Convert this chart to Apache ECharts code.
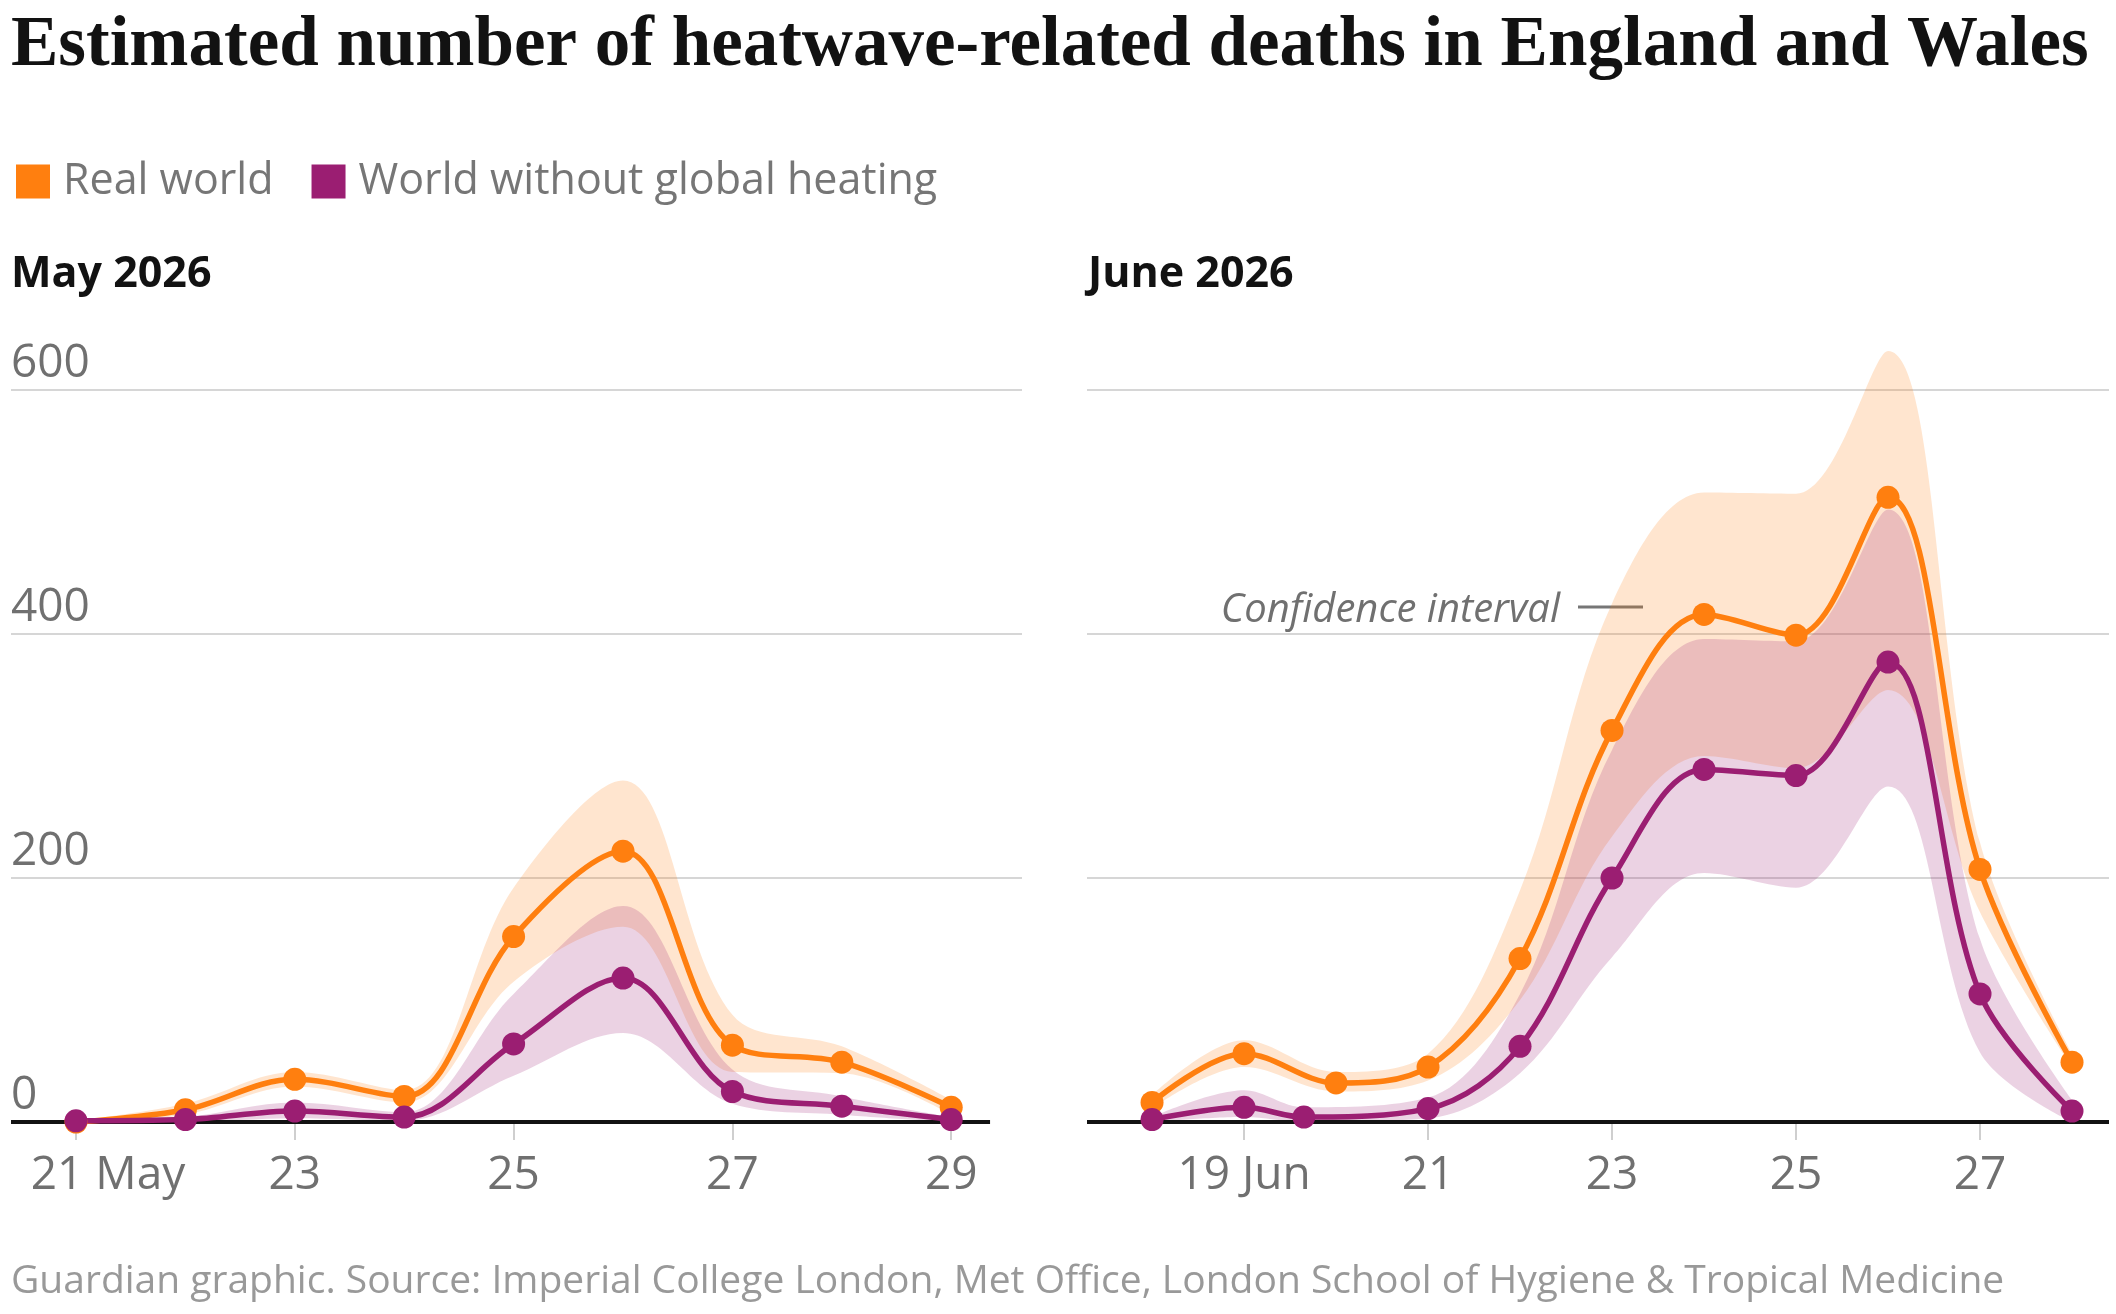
<!DOCTYPE html>
<html>
<head>
<meta charset="utf-8">
<title>Heatwave-related deaths</title>
<script src="https://cdn.jsdelivr.net/npm/echarts@6/dist/echarts.min.js"></script>
<style>
  html, body { margin: 0; background: #fff; }
  #chart { width: 2116px; height: 1314px; }
</style>
</head>
<body>
<div id="chart"></div>
<script>
  // May 2026 heatwave (x = day of month)
  const mayDays = [21, 22, 23, 24, 25, 26, 27, 28, 29]
  const mayReal = [0, 10, 35, 21, 152, 222, 63, 49, 12]
  const mayRealLow = [0, 6, 29, 16, 115, 160, 41, 40, 6]
  const mayRealHigh = [1, 15, 41, 26, 192, 280, 88, 62, 18]
  const mayNoHeat = [1, 2, 9, 4, 64, 118, 25, 13, 2]
  const mayNoHeatLow = [0, 0, 3, 1, 38, 73, 15, 6, 0]
  const mayNoHeatHigh = [1, 4, 16, 8, 105, 177, 43, 21, 4]
  const mayLabelDays = [21, 23, 25, 27, 29]

  // June 2026 heatwave (the 20 Jun purple point sits left of its day in the original)
  const junDays = [18, 19, 20, 21, 22, 23, 24, 25, 26, 27, 28]
  const junNoHeatDays = [18, 19, 19.65, 21, 22, 23, 24, 25, 26, 27, 28]
  const junReal = [16, 56, 32, 45, 134, 321, 416, 399, 512, 207, 49]
  const junRealLow = [11, 45, 25, 34, 100, 234, 300, 290, 354, 172, 45]
  const junRealHigh = [22, 67, 41, 56, 190, 425, 516, 515, 632, 229, 56]
  const junNoHeat = [2, 12, 4, 11, 62, 200, 289, 284, 377, 105, 9]
  const junNoHeatLow = [0, 4, 0, 3, 40, 135, 204, 192, 275, 57, 0]
  const junNoHeatHigh = [4, 26, 12, 20, 105, 305, 396, 394, 502, 150, 18]
  const junLabelDays = [19, 21, 23, 25, 27]

  const yTicks = [0, 200, 400, 600]

  const ORANGE = '#ff7f0f'
  const PURPLE = '#9b1e72'
  const GRID = '#d6d6d6'
  const LABEL = '#707070'
  const FONT = '"Open Sans", sans-serif'
  const SMOOTH = 0.35

  const myChart = echarts.init(document.getElementById('chart'))

  // confidence band = invisible lower line + stacked (high - low) area
  // values go in dim 0 so the stack runs on y, not on the value-type x axis
  const band = (key, days, low, high, color, gi) => {
    const common = {
      type: 'line',
      xAxisIndex: gi,
      yAxisIndex: gi,
      stack: key,
      smooth: SMOOTH,
      symbol: 'none',
      clip: false,
      silent: true,
      z: 2,
      encode: { x: 1, y: 0 },
      lineStyle: { width: 0, opacity: 0 },
    }
    return [
      { ...common, name: key + ' low', data: days.map((d, i) => [low[i], d]) },
      {
        ...common,
        name: key + ' high',
        areaStyle: { color: color, opacity: 0.2 },
        data: days.map((d, i) => [high[i] - low[i], d]),
      },
    ]
  }

  const trend = (name, days, vals, color, gi, baseline) => {
    const s = {
      name: name,
      type: 'line',
      xAxisIndex: gi,
      yAxisIndex: gi,
      smooth: SMOOTH,
      symbol: 'circle',
      symbolSize: 23,
      showAllSymbol: true,
      clip: false,
      z: 10,
      lineStyle: { color: color, width: 5.5 },
      itemStyle: { color: color },
      data: days.map((d, i) => [d, vals[i]]),
    }
    if (baseline) {
      s.markLine = {
        silent: true,
        symbol: ['none', 'none'],
        label: { show: false },
        lineStyle: { color: '#121212', width: 4, type: 'solid' },
        data: [[{ coord: [baseline[0], 0] }, { coord: [baseline[1], 0] }]],
      }
    }
    return s
  }

  const xAxisFor = (gi, min, max, labelDays, month, shiftFirst) => ({
    type: 'value',
    gridIndex: gi,
    min: min,
    max: max,
    axisLine: { show: false },
    splitLine: { show: false },
    axisTick: {
      show: true,
      customValues: labelDays,
      length: 18,
      lineStyle: { color: '#cfcfcf', width: 2 },
    },
    axisLabel: {
      customValues: labelDays,
      margin: 31,
      fontSize: 46,
      fontFamily: FONT,
      color: LABEL,
      formatter: v => {
        if (v === labelDays[0]) {
          return shiftFirst ? '{first|' + v + ' ' + month + '}' : v + ' ' + month
        }
        return String(v)
      },
      rich: {
        first: { fontSize: 46, fontFamily: FONT, color: LABEL, padding: [0, 0, 0, 64] },
      },
    },
  })

  const yAxisFor = gi => ({
    type: 'value',
    gridIndex: gi,
    min: yTicks[0],
    max: yTicks[yTicks.length - 1],
    interval: yTicks[1] - yTicks[0],
    axisLine: { show: false },
    axisTick: { show: false },
    axisLabel: {
      show: gi === 0,
      inside: true,
      align: 'left',
      verticalAlign: 'bottom',
      margin: 0,
      padding: [0, 0, 3, 0],
      fontSize: 46,
      fontFamily: FONT,
      color: LABEL,
    },
    splitLine: {
      show: true,
      lineStyle: { color: ['rgba(0,0,0,0)', GRID, GRID, GRID], width: 2 },
    },
  })

  const option = {
    animation: false,
    backgroundColor: '#fff',
    grid: [
      { left: 11, top: 390, width: 1011, height: 732, containLabel: false, outerBoundsMode: 'none' },
      { left: 1087, top: 390, width: 1022, height: 732, containLabel: false, outerBoundsMode: 'none' },
    ],
    legend: {
      left: 11,
      top: 155,
      icon: 'rect',
      itemWidth: 34,
      itemHeight: 34,
      itemGap: 38,
      selectedMode: false,
      data: ['Real world', 'World without global heating'],
      textStyle: { fontSize: 43, fontFamily: FONT, color: '#767676', padding: [0, 0, 0, 8] },
    },
    xAxis: [
      xAxisFor(0, 20.406, 29.647, mayLabelDays, 'May', true),
      xAxisFor(1, 17.293, 28.402, junLabelDays, 'Jun', false),
    ],
    yAxis: [yAxisFor(0), yAxisFor(1)],
    series: [
      ...band('mayReal', mayDays, mayRealLow, mayRealHigh, ORANGE, 0),
      ...band('mayNoHeat', mayDays, mayNoHeatLow, mayNoHeatHigh, PURPLE, 0),
      ...band('junReal', junDays, junRealLow, junRealHigh, ORANGE, 1),
      ...band('junNoHeat', junNoHeatDays, junNoHeatLow, junNoHeatHigh, PURPLE, 1),
      trend('Real world', mayDays, mayReal, ORANGE, 0, [20.406, 29.355]),
      trend('World without global heating', mayDays, mayNoHeat, PURPLE, 0),
      trend('Real world', junDays, junReal, ORANGE, 1, [17.293, 28.402]),
      trend('World without global heating', junNoHeatDays, junNoHeat, PURPLE, 1),
    ],
    graphic: [
      {
        type: 'text', x: 11, y: 47,
        style: {
          text: 'Estimated number of heatwave-related deaths in England and Wales',
          font: 'bold 71px "Liberation Serif", serif', fill: '#121212',
          align: 'left', verticalAlign: 'middle',
        },
      },
      {
        type: 'text', x: 11, y: 275,
        style: { text: 'May 2026', font: 'bold 43px ' + FONT, fill: '#121212', align: 'left', verticalAlign: 'middle' },
      },
      {
        type: 'text', x: 1088, y: 275,
        style: { text: 'June 2026', font: 'bold 43px ' + FONT, fill: '#121212', align: 'left', verticalAlign: 'middle' },
      },
      {
        type: 'text', x: 1560, y: 611,
        style: { text: 'Confidence interval', font: 'italic 40px ' + FONT, fill: LABEL, align: 'right', verticalAlign: 'middle' },
      },
      {
        type: 'line',
        shape: { x1: 1578, y1: 607, x2: 1643, y2: 607 },
        style: { stroke: '#767676', lineWidth: 3 },
      },
      {
        type: 'text', x: 11, y: 1282,
        style: {
          text: 'Guardian graphic. Source: Imperial College London, Met Office, London School of Hygiene & Tropical Medicine',
          font: '39px ' + FONT, fill: '#999999', align: 'left', verticalAlign: 'middle',
        },
      },
    ],
  }

  option && myChart.setOption(option)
</script>
</body>
</html>
